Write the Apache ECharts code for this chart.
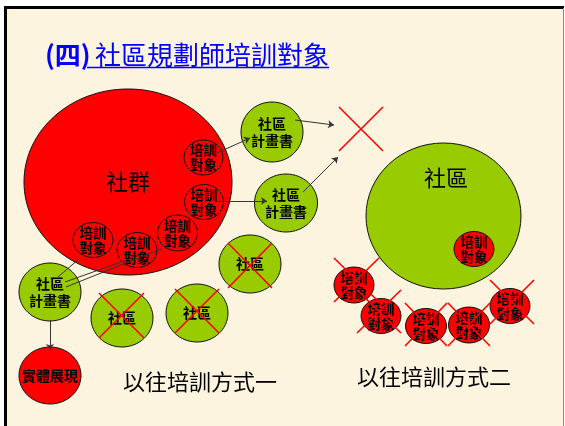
<!DOCTYPE html>
<html>
<head>
<meta charset="utf-8">
<script src="https://cdn.jsdelivr.net/npm/echarts@6/dist/echarts.min.js"></script>
<style>
html,body{margin:0;padding:0;background:#fff;}
#c{width:565px;height:426px;}
</style>
</head>
<body>
<div id="c"></div>
<script>
// ---- data (diagram units = page pixels) ----
const titlePrefix = '(四)';
const titleMain = '社區規劃師培訓對象';

const nodeLabels = ['社群','培訓\n對象','培訓\n對象','培訓\n對象','培訓\n對象','培訓\n對象',
  '社區\n計畫書','社區\n計畫書','社區\n計畫書','實體展現','社區','社區','社區',
  '','培訓\n對象','培訓\n對象','培訓\n對象','培訓\n對象','培訓\n對象','培訓\n對象'];
const nodeKind = ['bigRed','target','target','target','target','target',
  'plan','plan','plan','show','plan','plan','plan',
  'bigGreen','target','target','target','target','target','target'];
const nodeX  = [128, 203.5, 204, 177.5, 137, 93, 272, 286, 50, 50, 250, 122, 197, 443.5, 474, 354, 381, 426, 469, 510];
const nodeY  = [182, 157.5, 202, 233, 250, 240, 132, 203, 292, 375.5, 264, 318, 313, 216, 249, 285, 316, 326, 325, 306];
const nodeRX = [104, 19.5, 19.5, 20, 20, 20, 31, 31.5, 31, 31, 31, 31, 31, 77.5, 20, 20, 20, 20.5, 20.5, 20];
const nodeRY = [93, 17.5, 17.5, 18, 17.5, 17.5, 30, 29, 29, 28.5, 29, 29, 29, 73, 17.5, 18, 17.5, 17.5, 18, 17.5];

const arrowFrom = [[217,153],[218,201],[295,120],[303,192],[50,320]];
const arrowTo   = [[250,138],[267,201],[334,125],[338,157],[50,350]];
const linkFrom  = [[58,277],[65,282],[66,287]];
const linkTo    = [[80,258],[121,262],[161,249]];

// cross boxes: [x0, y0, x1, y1]
const crossBoxes = [[339,107,383,151],[228,243,272,288],[99,293,144,338],[175,289,219,333],
  [334,258,379,302],[357,290,401,333],[405,303,447,346],[448,303,490,346],[490,280,534,324]];

const captionText = ['社區','以往培訓方式一','以往培訓方式二'];
const captionX = [446, 200, 434];
const captionY = [178, 382, 377];

// ---- styles ----
const FONT = "'Noto Sans CJK TC','Noto Sans CJK SC',sans-serif";
const kindStyle = {
  bigRed:   {fill:'#FF0000', size:22, weight:'normal', lh:26},
  target:   {fill:'#FF0000', size:13.5, weight:'bold', lh:15},
  plan:     {fill:'#99CC00', size:14, weight:'bold', lh:17},
  show:     {fill:'#FF0000', size:14, weight:'bold', lh:17},
  bigGreen: {fill:'#99CC00', size:22, weight:'normal', lh:26}
};

const nodeData = nodeX.map((x,i)=>[x, nodeY[i], nodeRX[i], nodeRY[i]]);
const arrowData = arrowFrom.map((p,i)=>({coords:[p, arrowTo[i]]}));
const linkData = linkFrom.map((p,i)=>({coords:[p, linkTo[i]]}));
const crossData = [];
crossBoxes.forEach(b=>{
  crossData.push({coords:[[b[0],b[1]],[b[2],b[3]]]});
  crossData.push({coords:[[b[2],b[1]],[b[0],b[3]]]});
});
const captionData = captionX.map((x,i)=>[x, captionY[i]]);

const chart = echarts.init(document.getElementById('c'), null, {renderer:'canvas'});
chart.setOption({
  animation:false,
  backgroundColor:'#ffffff',
  grid:{left:0,right:0,top:0,bottom:0},
  xAxis:{type:'value',min:0,max:565,show:false},
  yAxis:{type:'value',min:0,max:426,inverse:true,show:false},
  graphic:[
    {type:'rect', z:-10, shape:{x:5,y:7,width:559,height:420}, style:{fill:'#FCF4DF'}},
    {type:'rect', z:-9, shape:{x:4,y:6,width:560,height:3}, style:{fill:'#000'}},
    {type:'rect', z:-9, shape:{x:4,y:6,width:3,height:421}, style:{fill:'#000'}},
    {type:'rect', z:-9, shape:{x:563,y:8,width:1,height:419}, style:{fill:'#8a8a8a'}},
    {type:'text', z:10, style:{text:titlePrefix, x:45, y:55, verticalAlign:'middle',
      font:"bold 26px "+FONT, fill:'#0000FF'}},
    {type:'text', z:10, style:{text:titleMain, x:95, y:55, verticalAlign:'middle',
      font:"26px "+FONT, fill:'#0000FF'}},
    {type:'line', z:10, shape:{x1:87,y1:67.5,x2:329,y2:67.5}, style:{stroke:'#0000FF', lineWidth:1.5}}
  ],
  series:[
    {
      type:'custom', z:2,
      data:nodeData,
      renderItem:function(params, api){
        const i = params.dataIndex;
        const st = kindStyle[nodeKind[i]];
        const c = api.coord([api.value(0), api.value(1)]);
        const s = api.size([api.value(2), api.value(3)]);
        return {type:'group', children:[
          {type:'ellipse', shape:{cx:c[0], cy:c[1], rx:Math.abs(s[0]), ry:Math.abs(s[1])},
            style:{fill:st.fill, stroke:'#111', lineWidth:1}},
          {type:'text', style:{text:nodeLabels[i], x:c[0], y:c[1], align:'center', verticalAlign:'middle',
            font:st.weight+' '+st.size+'px '+FONT, lineHeight:st.lh, fill:'#000'}}
        ]};
      }
    },
    {
      type:'lines', coordinateSystem:'cartesian2d', z:3,
      data:arrowData, symbol:['none','arrow'], symbolSize:6,
      lineStyle:{color:'#333', width:1, opacity:1}
    },
    {
      type:'lines', coordinateSystem:'cartesian2d', z:3,
      data:linkData, symbol:['none','none'],
      lineStyle:{color:'#333', width:1, opacity:1}
    },
    {
      type:'lines', coordinateSystem:'cartesian2d', z:4,
      data:crossData, symbol:['none','none'],
      lineStyle:{color:'#FF0000', width:1.6, opacity:1}
    },
    {
      type:'custom', z:5,
      data:captionData,
      renderItem:function(params, api){
        const i = params.dataIndex;
        const c = api.coord([api.value(0), api.value(1)]);
        return {type:'text', style:{text:captionText[i], x:c[0], y:c[1], align:'center', verticalAlign:'middle',
          font:'22px '+FONT, fill:'#000'}};
      }
    }
  ]
});
</script>
</body>
</html>
